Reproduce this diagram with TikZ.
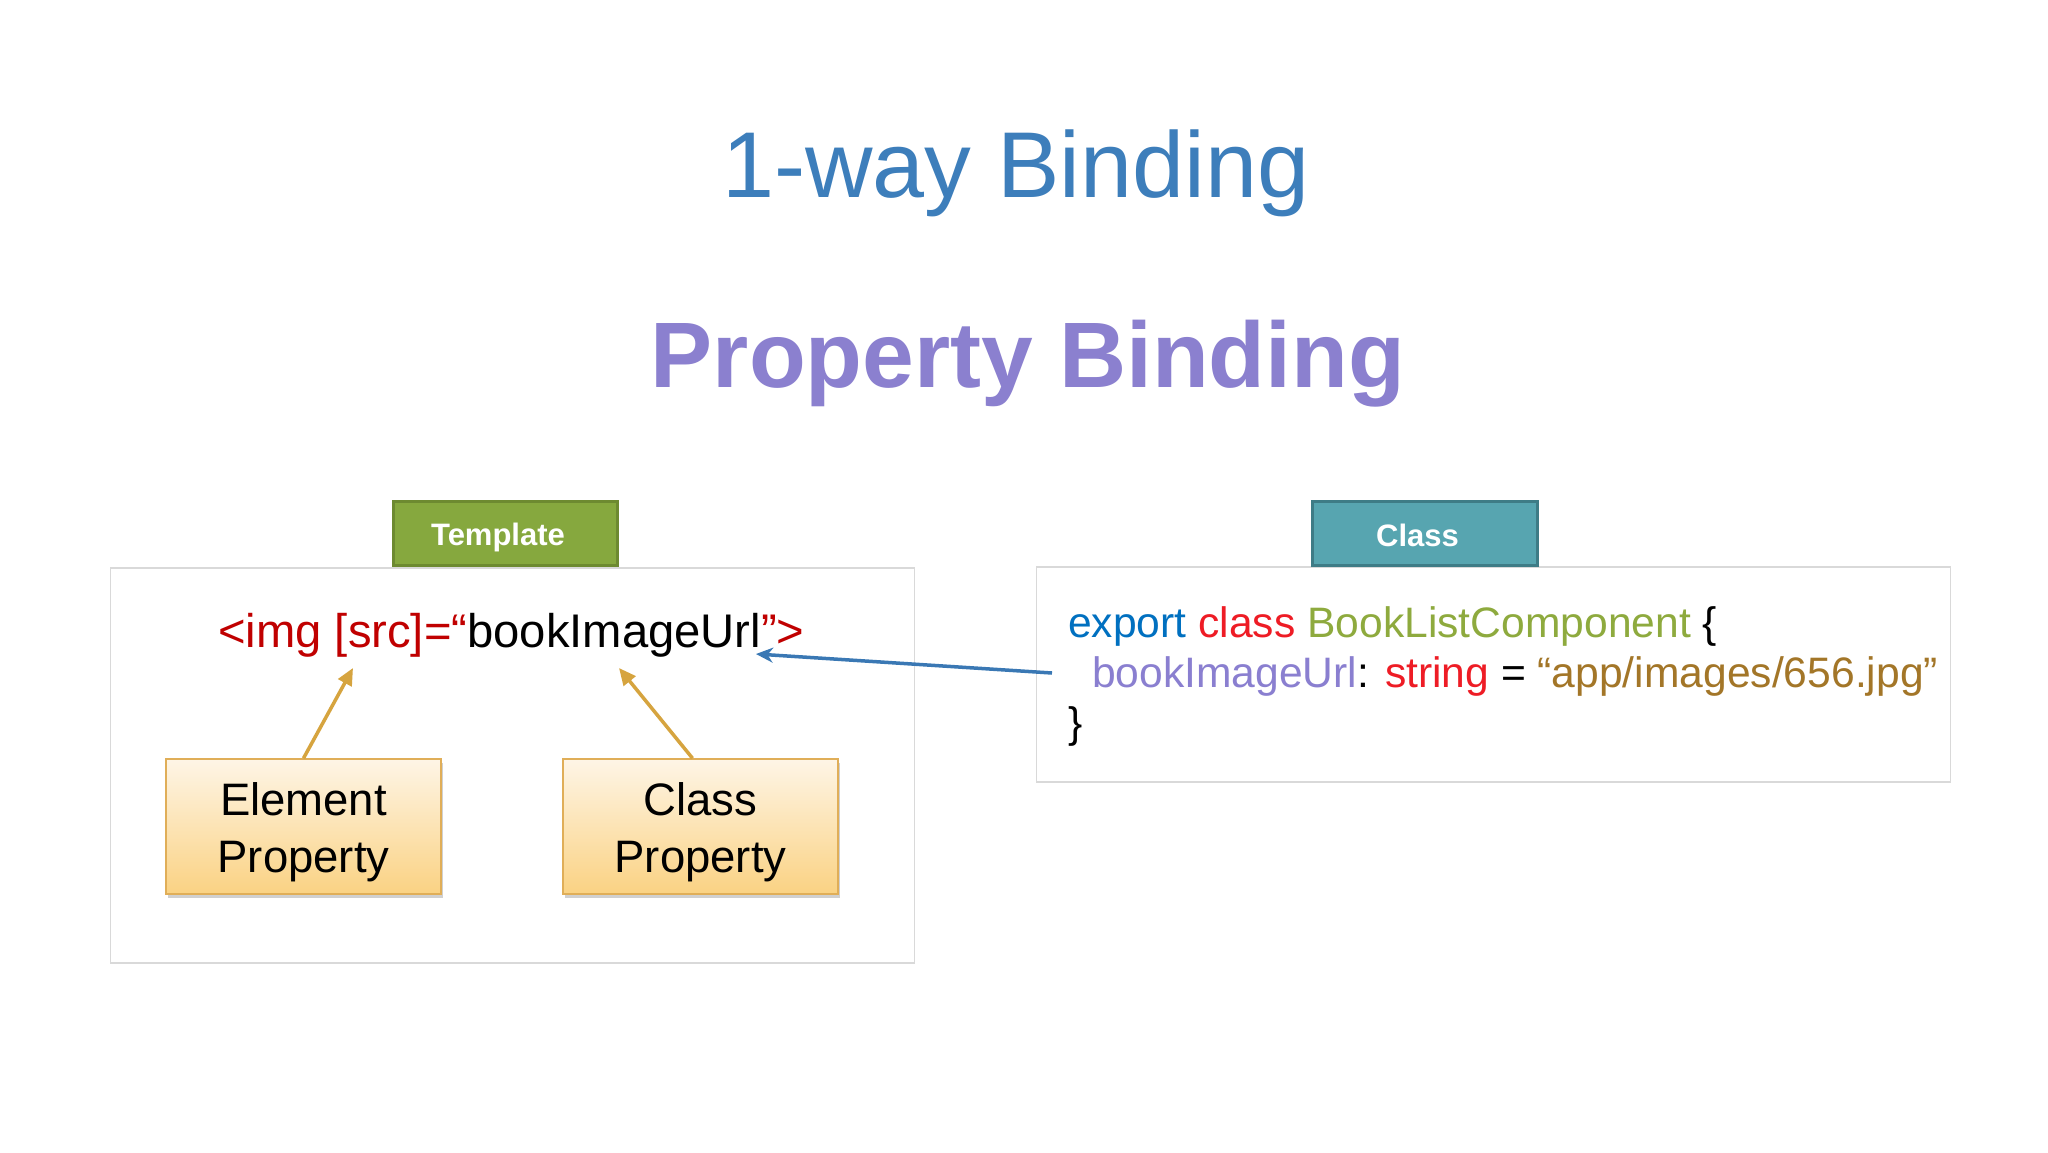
\documentclass[tikz,border=0pt]{standalone}
\usepackage{fontspec}
\setmainfont{Liberation Sans}
\usetikzlibrary{arrows.meta,shadows}
\definecolor{titleblue}{HTML}{3D7EBB}
\definecolor{subpurple}{HTML}{8B80CF}
\definecolor{tgreen}{HTML}{86A83E}
\definecolor{tgreenb}{HTML}{6D8A30}
\definecolor{tteal}{HTML}{57A5B0}
\definecolor{ttealb}{HTML}{3E7C86}
\definecolor{dkred}{HTML}{C00000}
\definecolor{kwblue}{HTML}{0070C0}
\definecolor{kwred}{HTML}{EE1C25}
\definecolor{typegreen}{HTML}{8EAA3E}
\definecolor{proppurple}{HTML}{8A7FD0}
\definecolor{strbrown}{HTML}{A37628}
\definecolor{arrgold}{HTML}{D6A43F}
\definecolor{arrblue}{HTML}{3A78B4}
\definecolor{panelgray}{HTML}{D9D9D9}
\definecolor{propborder}{HTML}{E0AE58}
\definecolor{proptop}{HTML}{FEF5E6}
\definecolor{propbot}{HTML}{FAD283}
\tikzset{
  panel/.style={draw=panelgray, line width=1.5pt, fill=white, inner sep=0, rectangle},
  labelbox/.style={rectangle, line width=3pt, inner sep=0, minimum height=64},
  labeltext/.style={inner sep=0, text=white, font=\fontsize{31}{36}\selectfont\bfseries},
  propbox/.style={rectangle, draw=propborder, line width=1.5pt, top color=proptop, bottom color=propbot,
    minimum width=275, minimum height=135, inner sep=0,
    drop shadow={shadow xshift=2pt, shadow yshift=-4pt, opacity=0.3, fill=black!60}},
  proptext/.style={inner sep=0, align=center, font=\fontsize{45.5}{57}\selectfont},
  codetext/.style={anchor=base west, inner sep=0},
  goldarrow/.style={draw=arrgold, line width=3.5pt, -{Triangle[length=17pt,width=15pt]}},
  bluearrow/.style={draw=arrblue, line width=3.5pt, -{Stealth[length=17pt,width=15pt]}}
}
\begin{document}
\begin{tikzpicture}[x=1pt,y=-1pt]
\useasboundingbox (0,0) rectangle (2048,1152);
\fill[white] (0,0) rectangle (2048,1152);

\node[anchor=base, inner sep=0, text=titleblue, font=\fontsize{93.5}{110}\selectfont] (title) at (1016,197) {1-way Binding};
\node[anchor=base, inner sep=0, text=subpurple, font=\fontsize{93}{110}\selectfont\bfseries] (subtitle) at (1028,387) {Property Binding};

\node[panel, minimum width=804, minimum height=395] (tplpanel) at (512.5,765.5) {};
\node[panel, minimum width=914, minimum height=215] (clspanel) at (1493.5,674.5) {};

\node[labelbox, fill=tgreen, draw=tgreenb, minimum width=224] (tpllabel) at (505,533) {};
\node[labeltext] (tpltext) at ([xshift=-7pt,yshift=-4pt]tpllabel.center) {Template};
\node[labelbox, fill=tteal, draw=ttealb, minimum width=225] (clslabel) at (1424.5,533) {};
\node[labeltext] (clstext) at ([xshift=-7pt,yshift=-2pt]clslabel.center) {Class};

\node[codetext, font=\fontsize{47.2}{50}\selectfont] (tcode) at (218,647)
  {\textcolor{dkred}{<img [src]=“}bookImageUrl\textcolor{dkred}{”>}};

\node[codetext, font=\fontsize{42.6}{50}\selectfont] (c1) at (1068,637)
  {\textcolor{kwblue}{export} \textcolor{kwred}{class} \textcolor{typegreen}{BookListComponent} \{};
\node[codetext, font=\fontsize{42.6}{50}\selectfont] (c2) at (1092,687)
  {\textcolor{proppurple}{bookImageUrl}: \textcolor{kwred}{string} = \textcolor{strbrown}{“app/images/656.jpg”}};
\node[codetext, font=\fontsize{42.6}{50}\selectfont] (c3) at (1068,737) {\}};

\node[propbox] (ep) at (303.5,826.5) {};
\node[proptext] (eptext) at ([yshift=-6pt]ep.center) {Element\\Property};
\node[propbox] (cp) at (700.5,826.5) {};
\node[proptext] (cptext) at ([yshift=-6pt]cp.center) {Class\\Property};

\coordinate (eptip) at (353,668);
\coordinate (cptip) at (619,668);
\coordinate (bstart) at (1052,673);
\coordinate (btip) at (756,654);

\draw[goldarrow] (ep.north) -- (eptip);
\draw[goldarrow] ([xshift=-8pt]cp.north) -- (cptip);
\draw[bluearrow] (bstart) -- (btip);
\end{tikzpicture}
\end{document}
